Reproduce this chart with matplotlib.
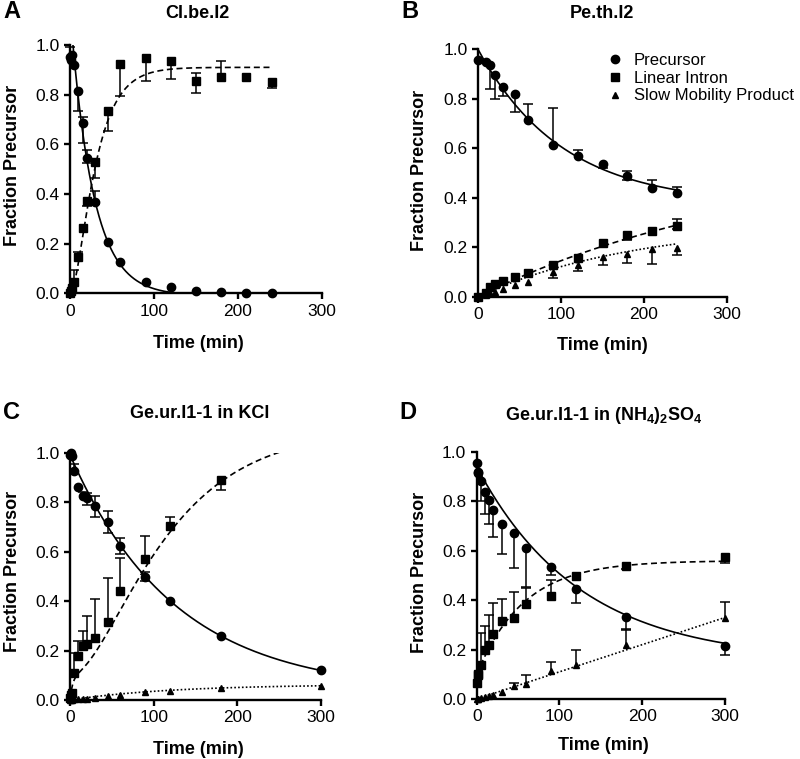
import numpy as np
import matplotlib
matplotlib.use("Agg")
import matplotlib.pyplot as plt
from matplotlib.lines import Line2D

plt.rcParams['font.family'] = ['Liberation Sans', 'DejaVu Sans']
plt.rcParams['mathtext.fontset'] = 'custom'
plt.rcParams['mathtext.rm'] = 'Liberation Sans:bold'
plt.rcParams['mathtext.it'] = 'Liberation Sans:bold'
plt.rcParams['mathtext.bf'] = 'Liberation Sans:bold'
plt.rcParams['mathtext.default'] = 'rm'

nan = np.nan

# ---------------- Panel A : Cl.be.I2 ----------------
tA = [0, 1, 2, 5, 10, 15, 20, 30, 45, 60, 90, 120, 150, 180, 210, 240]
precA = [0.95, 0.94, 0.96, 0.92, 0.813, 0.685, 0.544, 0.369, 0.208, 0.125, 0.047, 0.024, 0.011, 0.006, 0.003, 0.002]
precA_lo = [0, 0, 0, 0, 0.08, 0.08, 0.02, 0.01, 0, 0, 0, 0, 0, 0, 0, 0]
precA_hi = [0.04, 0, 0, 0, 0, 0.025, 0.035, 0.045, 0, 0, 0, 0, 0, 0, 0, 0]
intA = [0.0, 0.01, 0.02, 0.047, 0.148, 0.262, 0.37, 0.53, 0.735, 0.923, 0.946, 0.935, 0.857, 0.87, 0.87, 0.853]
intA_lo = [0, 0, 0, 0, 0, 0, 0.02, 0.065, 0.08, 0.13, 0.09, 0.07, 0.05, 0, 0, 0.025]
intA_hi = [0, 0, 0, 0.045, 0.02, 0, 0, 0, 0, 0, 0, 0, 0.03, 0.065, 0, 0]

# ---------------- Panel B : Pe.th.I2 ----------------
tB = [0, 10, 15, 20, 30, 45, 60, 90, 120, 150, 180, 210, 240]
precB = [0.955, 0.949, 0.938, 0.895, 0.848, 0.821, 0.713, 0.612, 0.568, 0.535, 0.488, 0.438, 0.418]
precB_lo = [0, 0, 0.10, 0.095, 0.035, 0.075, 0, 0, 0, 0.015, 0.015, 0, 0]
precB_hi = [0, 0, 0, 0, 0, 0, 0.065, 0.15, 0.025, 0, 0.02, 0.035, 0.025]
intB = [0.0, 0.015, 0.04, 0.051, 0.065, 0.078, 0.094, 0.128, 0.157, 0.218, 0.25, 0.265, 0.287]
intB_lo = [0, 0, 0, 0, 0, 0, 0, 0, 0, 0, 0.02, 0, 0.015]
intB_hi = [0, 0, 0, 0, 0, 0, 0, 0, 0, 0, 0, 0, 0.028]
slowB = [0.0, 0.005, 0.015, 0.02, 0.03, 0.047, 0.06, 0.10, 0.128, 0.16, 0.172, 0.193, 0.198]
slowB_lo = [0, 0, 0, 0, 0, 0, 0, 0.025, 0.025, 0.03, 0.035, 0.06, 0.03]
slowB_hi = [0, 0, 0, 0, 0, 0, 0, 0, 0, 0, 0, 0, 0]

# ---------------- Panel C : Ge.ur.I1-1 in KCl ----------------
tC = [0, 1, 2, 5, 10, 15, 20, 30, 45, 60, 90, 120, 180, 300]
precC = [0.993, 1.0, 0.986, 0.926, 0.862, 0.827, 0.818, 0.784, 0.72, 0.622, 0.50, 0.401, 0.259, 0.12]
precC_lo = [0, 0, 0, 0, 0, 0, 0.03, 0.045, 0.045, 0.03, 0.02, 0, 0, 0]
precC_hi = [0, 0, 0, 0.03, 0, 0.015, 0.02, 0.04, 0.045, 0.035, 0.02, 0, 0, 0]
intC = [0.007, 0.02, 0.03, 0.11, 0.178, 0.219, 0.226, 0.249, 0.314, 0.443, 0.572, 0.705, 0.89, nan]
intC_lo = [0, 0, 0, 0, 0, 0, 0, 0, 0, 0, 0, 0, 0.04, 0]
intC_hi = [0, 0, 0, 0.08, 0.06, 0.06, 0.115, 0.16, 0.18, 0.13, 0.09, 0.035, 0, 0]
slowC = [0.0, 0.0, 0.002, 0.003, 0.004, 0.005, 0.005, 0.007, 0.016, 0.02, 0.034, 0.038, 0.047, 0.057]

# ---------------- Panel D : Ge.ur.I1-1 in (NH4)2SO4 ----------------
tD = [0, 1, 2, 5, 10, 15, 20, 30, 45, 60, 90, 120, 180, 300]
precD = [0.956, 0.919, 0.915, 0.883, 0.838, 0.805, 0.767, 0.707, 0.674, 0.61, 0.536, 0.445, 0.331, 0.213]
precD_lo = [0, 0, 0, 0.08, 0.09, 0.095, 0.11, 0.12, 0.145, 0.155, 0.035, 0.055, 0.05, 0.035]
precD_hi = [0, 0, 0, 0, 0, 0, 0, 0, 0, 0, 0, 0, 0, 0]
intD = [0.065, 0.098, 0.10, 0.139, 0.197, 0.22, 0.264, 0.314, 0.327, 0.384, 0.415, 0.499, 0.54, 0.576]
intD_lo = [0, 0, 0, 0, 0, 0, 0, 0, 0, 0, 0, 0, 0.015, 0.025]
intD_hi = [0, 0, 0, 0.13, 0.10, 0.12, 0.125, 0.09, 0.105, 0.065, 0.065, 0, 0, 0]
slowD = [0.0, 0.0, 0.002, 0.004, 0.008, 0.012, 0.015, 0.027, 0.051, 0.062, 0.112, 0.139, 0.219, 0.327]
slowD_hi = [0, 0, 0, 0, 0, 0, 0, 0, 0.014, 0.036, 0.036, 0.06, 0.065, 0.067]
slowD_lo = [0, 0, 0, 0, 0, 0, 0, 0, 0, 0, 0, 0, 0, 0]

titles = ["Cl.be.I2", "Pe.th.I2", "Ge.ur.I1-1 in KCl",
          r"Ge.ur.I1-1 in (NH$_4$)$_2$SO$_4$"]
letters = ["A", "B", "C", "D"]
legend_labels = ["Precursor", "Linear Intron", "Slow Mobility Product"]
xticks = [0, 100, 200, 300]
yticks = [0.0, 0.2, 0.4, 0.6, 0.8, 1.0]

# fitted-curve parameters (nonlinear fits shown as lines)
fitA_prec = dict(c=-0.01, A=1.15, k=0.037)
fitA_int = dict(P=0.91, k=0.046)
fitB_prec = dict(P=0.372, k=0.00985)
fitB_int = dict(P=0.578, k=0.0029)
fitB_slow = dict(P=0.30, k=0.0052)
fitC_prec = dict(c=0.0325, A=0.96, k=0.008)
fitC_int = dict(a=0.10, kf=0.3, P=1.0, k=0.012)
fitC_slow = dict(P=0.063, k=0.0082)
fitD_prec = dict(c=0.154, A=0.786, k=0.008)
fitD_int = dict(y0=0.10, P=0.56, k=0.0176)
fitD_slow = dict(m=0.0011)

W, H = 800, 759
fig = plt.figure(figsize=(8, 7.59), dpi=100)


def rect(x0, x1, yt, yb):
    return [x0 / W, 1 - yb / H, (x1 - x0) / W, (yb - yt) / H]


def style(ax):
    ax.set_xlim(0, 300)
    ax.set_ylim(0, 1)
    for s in ['top', 'right']:
        ax.spines[s].set_visible(False)
    for s in ['left', 'bottom']:
        ax.spines[s].set_linewidth(1.7)
    ax.set_xticks(xticks)
    ax.set_yticks(yticks)
    ax.set_yticklabels([f"{v:.1f}" for v in yticks])
    ax.tick_params(direction='out', length=4.5, width=1.7, labelsize=12.5, pad=3,
                   colors='black')
    ax.patch.set_alpha(0)


def series(ax, t, y, lo, hi, marker, ms):
    t = np.asarray(t, float)
    y = np.asarray(y, float)
    lo = np.asarray(lo, float)
    hi = np.asarray(hi, float)
    m = lo > 0
    if m.any():
        ax.vlines(t[m], y[m] - lo[m], y[m], color='k', lw=1.1, clip_on=False)
        ax.plot(t[m], y[m] - lo[m], ls='none', marker='_', ms=7.5, mew=1.1, color='k', clip_on=False)
    m = hi > 0
    if m.any():
        ax.vlines(t[m], y[m], y[m] + hi[m], color='k', lw=1.1, clip_on=False)
        ax.plot(t[m], y[m] + hi[m], ls='none', marker='_', ms=7.5, mew=1.1, color='k', clip_on=False)
    ax.plot(t, y, ls='none', marker=marker, ms=ms, color='k', mec='k', clip_on=False, zorder=4)


DASH = (0, (3.6, 2.2))
DOT = (0, (1.0, 1.3))
LW = 1.2

axA = fig.add_axes(rect(70, 322, 45, 293.3))
axB = fig.add_axes(rect(478, 727, 49.3, 296.7))
axC = fig.add_axes(rect(70, 321, 453, 700))
axD = fig.add_axes(rect(476.7, 725, 452, 699))
for ax in (axA, axB, axC, axD):
    style(ax)

MS_C, MS_S, MS_T = 6.0, 5.5, 5.0

# Panel A
tt = np.linspace(0, 240, 500)
p = fitA_prec
axA.plot(tt, p['c'] + p['A'] * np.exp(-p['k'] * tt), 'k-', lw=LW)
p = fitA_int
axA.plot(tt, p['P'] * (1 - np.exp(-p['k'] * tt)) ** 2, 'k', ls=DASH, lw=LW)
series(axA, tA, precA, precA_lo, precA_hi, 'o', MS_C)
series(axA, tA, intA, intA_lo, intA_hi, 's', MS_S)

# Panel B
tt = np.linspace(0, 240, 500)
p = fitB_prec
axB.plot(tt, p['P'] + (1 - p['P']) * np.exp(-p['k'] * tt), 'k-', lw=LW)
p = fitB_int
axB.plot(tt, p['P'] * (1 - np.exp(-p['k'] * tt)), 'k', ls=DASH, lw=LW)
p = fitB_slow
axB.plot(tt, p['P'] * (1 - np.exp(-p['k'] * tt)), 'k', ls=DOT, lw=LW)
series(axB, tB, precB, precB_lo, precB_hi, 'o', MS_C)
series(axB, tB, intB, intB_lo, intB_hi, 's', MS_S)
series(axB, tB, slowB, slowB_lo, slowB_hi, '^', MS_T)
handles = [Line2D([], [], ls='none', marker='o', ms=MS_C, color='k'),
           Line2D([], [], ls='none', marker='s', ms=MS_S, color='k'),
           Line2D([], [], ls='none', marker='^', ms=MS_T, color='k')]
axB.legend(handles, legend_labels, loc='upper left', frameon=False,
           bbox_to_anchor=(607 / W, 1 - 53 / H), bbox_transform=fig.transFigure,
           fontsize=12, handlelength=1.0, handletextpad=0.6, borderpad=0,
           labelspacing=0.16, borderaxespad=0)

# Panel C
tt = np.linspace(0, 300, 600)
p = fitC_prec
axC.plot(tt, p['c'] + p['A'] * np.exp(-p['k'] * tt), 'k-', lw=LW)
p = fitC_int
t2 = np.linspace(0, 250, 500)
axC.plot(t2, p['a'] * (1 - np.exp(-p['kf'] * t2)) + p['P'] * (1 - np.exp(-p['k'] * t2)) ** 2,
         'k', ls=DASH, lw=LW)
p = fitC_slow
axC.plot(tt, p['P'] * (1 - np.exp(-p['k'] * tt)), 'k', ls=DOT, lw=LW)
series(axC, tC, precC, precC_lo, precC_hi, 'o', MS_C)
series(axC, tC, intC, intC_lo, intC_hi, 's', MS_S)
series(axC, tC, slowC, np.zeros(len(tC)), np.zeros(len(tC)), '^', MS_T)

# Panel D
tt = np.linspace(0, 300, 600)
p = fitD_prec
axD.plot(tt, p['c'] + p['A'] * np.exp(-p['k'] * tt), 'k-', lw=LW)
p = fitD_int
axD.plot(tt, p['y0'] + (p['P'] - p['y0']) * (1 - np.exp(-p['k'] * tt)), 'k', ls=DASH, lw=LW)
p = fitD_slow
axD.plot(tt, p['m'] * tt, 'k', ls=DOT, lw=LW)
series(axD, tD, precD, precD_lo, precD_hi, 'o', MS_C)
series(axD, tD, intD, intD_lo, intD_hi, 's', MS_S)
series(axD, tD, slowD, slowD_lo, slowD_hi, '^', MS_T)


def ftext(x, y, s, **kw):
    fig.text(x / W, 1 - y / H, s, ha='center', va='center', **kw)


# titles
ftext(197, 14, titles[0], fontsize=13, fontweight='bold')
ftext(602, 14, titles[1], fontsize=13, fontweight='bold')
ftext(200, 413, titles[2], fontsize=13, fontweight='bold')
ftext(604, 415, titles[3], fontsize=13, fontweight='bold')

# panel letters
ftext(12, 12, letters[0], fontsize=17, fontweight='bold')
ftext(410, 12, letters[1], fontsize=17, fontweight='bold')
ftext(12, 412, letters[2], fontsize=17, fontweight='bold')
ftext(408, 412, letters[3], fontsize=17, fontweight='bold')

# axis labels
for (xc, yc) in [(13, 165), (419, 170), (13, 571), (419, 572)]:
    ftext(xc, yc, "Fraction Precursor", fontsize=13, fontweight='bold', rotation=90)
for (xc, yc) in [(198, 343), (602, 346), (198, 749), (603, 745)]:
    ftext(xc, yc, "Time (min)", fontsize=13, fontweight='bold')

fig.savefig("out.png", dpi=100)
